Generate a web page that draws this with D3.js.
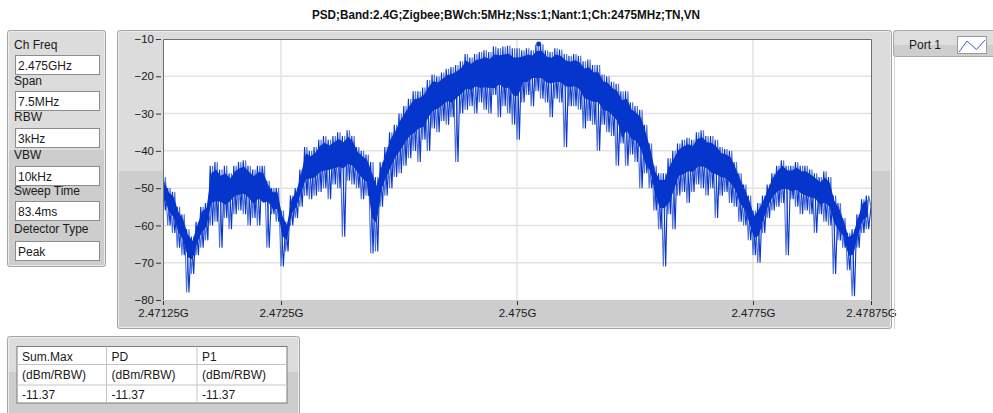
<!doctype html>
<html>
<head>
<meta charset="utf-8">
<style>
	body{margin:0;background:#fff;}
	svg{display:block;font-family:"Liberation Sans",Arial,sans-serif;}
	.tick text{font-size:11.5px;fill:#1a1a1a;}
	.lbl{font-size:12px;fill:#1a1a1a;}
</style>
</head>
<body>
<div id="chart"></div>
<script src="https://d3js.org/d3.v7.min.js"></script>
<script>

var TITLE = 'PSD;Band:2.4G;Zigbee;BWch:5MHz;Nss:1;Nant:1;Ch:2475MHz;TN,VN';

// left settings panel
var paramLabels = ['Ch Freq', 'Span', 'RBW', 'VBW', 'Sweep Time', 'Detector Type'];
var paramValues = ['2.475GHz', '7.5MHz', '3kHz', '10kHz', '83.4ms', 'Peak'];

// result table
var tableHeads = ['Sum.Max', 'PD', 'P1'];
var tableUnits = ['(dBm/RBW)', '(dBm/RBW)', '(dBm/RBW)'];
var tableValues = ['-11.37', '-11.37', '-11.37'];

var legendName = 'Port 1';

// axes (frequency in MHz)
var freqStart = 2471.25;
var freqStop = 2478.75;
var freqBin = 0.05;
var xTickValues = [2471.25, 2472.5, 2475, 2477.5, 2478.75];
var xTickLabels = ['2.47125G', '2.4725G', '2.475G', '2.4775G', '2.47875G'];
var yTickValues = [-10, -20, -30, -40, -50, -60, -70, -80];

// trace, read per 0.05 MHz bin: upper and lower excursion (dBm)
var psdHi = [
	-47, -50, -51, -55, -57, -61, -63, -59, -55, -54,
	-44, -43, -45, -44, -46, -44, -43, -42.5, -44, -45,
	-44, -44, -48, -50, -50, -56, -59, -52, -50, -45,
	-39, -40, -39, -37, -36, -37, -36, -35, -36, -34.5,
	-36, -39, -40, -41, -43, -47, -43, -39, -35, -33,
	-30, -28, -26, -24, -24, -23, -21, -19.5, -20, -19,
	-18, -17.5, -17, -16, -14, -15, -14, -13.5, -13, -13.5,
	-12, -12.5, -12, -11.8, -12.5,
	-12.5, -13, -12.5, -13, -11.5, -11.4, -13, -13.5, -12.5, -12.8,
	-14, -14.5, -14, -14.5, -16, -15.5, -17, -17, -19.5, -20,
	-21.5, -22, -24, -24, -27, -28, -29, -33, -38, -44,
	-46, -46, -42, -40, -38, -37, -36.5, -37, -35, -34.5,
	-36, -36, -37, -39, -39.5, -40, -43, -46, -49, -52,
	-56, -54, -52, -49, -46, -44, -42.5, -44, -44, -43,
	-44, -44, -45, -46, -47, -45.5, -47, -52, -54, -58,
	-62, -61, -57, -53, -52
];
var psdLo = [
	-56, -60, -62, -66, -68, -78, -73, -68, -66, -64,
	-60, -59, -66, -58, -61, -57, -56, -57, -60, -58,
	-60, -53, -66, -57, -59, -71, -67, -60, -58, -55,
	-52, -53, -52, -51, -50, -53, -49, -50, -63, -48,
	-49, -50, -53, -52, -67.5, -67, -55, -52, -50, -47,
	-46, -44, -42, -40, -43, -37, -40, -34, -35, -32,
	-33, -31, -43, -30, -29, -28, -30, -27, -29, -30,
	-25, -31, -28, -30, -33,
	-37, -27, -25, -28, -24, -26, -27, -31, -26, -27,
	-39, -28, -28, -29, -34, -32, -33, -40, -33, -35,
	-36, -44, -38, -44, -41, -43, -50, -46, -50, -56,
	-61, -71, -57, -61, -52, -51, -54, -51, -49, -50,
	-52, -50, -58, -52, -51, -54, -55, -59, -60, -64,
	-68, -70, -62, -58, -56, -55, -54, -68, -53, -55,
	-57, -56, -57, -62, -57, -59, -60, -73, -64, -66,
	-72, -79, -66, -62, -61
];
var psdEnd = -55;
var peakFreq = 2475.23;
var peakLevel = -11.37;

var W = 993, H = 413;
var plot = {left: 163, right: 871, top: 39, bottom: 300};
var BLUE = '#0636cc';

var svg = d3.select('#chart').append('svg')
	.attr('width', W)
	.attr('height', H);

// title
svg.append('text')
	.attr('x', 506).attr('y', 19)
	.attr('text-anchor', 'middle')
	.attr('font-size', 12).attr('font-weight', 'bold')
	.attr('textLength', 388).attr('lengthAdjust', 'spacingAndGlyphs')
	.attr('fill', '#111')
	.text(TITLE);

// two-tone panel like the labview frames
function panel(x, y, w, h, split) {
	var g = svg.append('g');
	g.append('rect').attr('x', x).attr('y', y).attr('width', w).attr('height', h)
		.attr('rx', 3).attr('fill', '#cdcdcd');
	g.append('rect').attr('x', x).attr('y', y).attr('width', w).attr('height', split - y)
		.attr('rx', 3).attr('fill', '#dcdcdc');
	g.append('rect').attr('x', x + 0.5).attr('y', y + 0.5).attr('width', w - 1).attr('height', h - 1)
		.attr('rx', 3).attr('fill', 'none').attr('stroke', '#a3a3a3');
	g.append('rect').attr('x', x + 1.5).attr('y', y + 1.5).attr('width', w - 3).attr('height', h - 3)
		.attr('rx', 2).attr('fill', 'none').attr('stroke', '#ececec');
	return g;
}

// left parameters
panel(7, 30, 99, 237, 150);
var labelY = [49, 85, 121, 159, 195, 233];
var boxY = [55.5, 91.5, 128.5, 166.5, 201.5, 241.5];
paramLabels.forEach(function(d, i) {
	svg.append('text').attr('class', 'lbl')
		.attr('x', 14).attr('y', labelY[i]).text(d);
	svg.append('rect')
		.attr('x', 15.5).attr('y', boxY[i]).attr('width', 84).attr('height', 19)
		.attr('fill', '#fff').attr('stroke', '#8c8c8c');
	svg.append('text').attr('class', 'lbl')
		.attr('x', 18).attr('y', boxY[i] + 14).text(paramValues[i]);
});

// graph frame
panel(117, 30, 775, 299, 171);

var x = d3.scaleLinear().domain([freqStart, freqStop]).range([plot.left, plot.right]);
var y = d3.scaleLinear().domain([-80, -10]).range([plot.bottom, plot.top]);

svg.append('rect')
	.attr('x', plot.left).attr('y', plot.top)
	.attr('width', plot.right - plot.left).attr('height', plot.bottom - plot.top)
	.attr('fill', '#fff');

// grid
svg.append('g').selectAll('line')
	.data(yTickValues.slice(1, -1))
	.enter().append('line')
	.attr('x1', plot.left).attr('x2', plot.right)
	.attr('y1', function(d){ return y(d); }).attr('y2', function(d){ return y(d); })
	.attr('stroke', '#e3e3e3').attr('stroke-width', 1.5);
svg.append('g').selectAll('line')
	.data(xTickValues.slice(1, -1))
	.enter().append('line')
	.attr('y1', plot.top).attr('y2', plot.bottom)
	.attr('x1', function(d){ return x(d); }).attr('x2', function(d){ return x(d); })
	.attr('stroke', '#e3e3e3').attr('stroke-width', 1.5);

// trace
var bins = psdHi.map(function(d, i) {
	var lo3 = [psdLo[Math.max(i - 1, 0)], psdLo[i], psdLo[Math.min(i + 1, psdLo.length - 1)]];
	return {f: freqStart + i * freqBin, hi: d, lo: psdLo[i], loCore: d3.median(lo3)};
});
// two passes over the same readings, half a bin out of phase
var ptsA = [], ptsB = [];
bins.forEach(function(b) {
	ptsA.push([b.f, b.hi]);
	ptsA.push([b.f + freqBin / 2, b.lo]);
	ptsB.push([b.f, b.lo]);
	ptsB.push([b.f + freqBin / 2, b.hi]);
});
ptsA.push([freqStop, psdEnd]);
ptsB.push([freqStop, psdEnd]);

var line = d3.line()
	.x(function(d){ return x(d[0]); })
	.y(function(d){ return y(d[1]); });

// solid core of the trace
var band = d3.area()
	.x(function(d){ return x(d.f + freqBin / 4); })
	.y1(function(d){ return y(d.hi - (d.hi - d.loCore) * 0.12); })
	.y0(function(d){ return y(d.hi - (d.hi - d.loCore) * 0.62); });

svg.append('defs').append('clipPath').attr('id', 'clip')
	.append('rect').attr('x', plot.left).attr('y', plot.top - 6)
	.attr('width', plot.right - plot.left).attr('height', plot.bottom - plot.top + 6);

var gt = svg.append('g').attr('clip-path', 'url(#clip)');
gt.append('path')
	.datum(bins)
	.attr('d', band)
	.attr('fill', BLUE);

[ptsA, ptsB].forEach(function(p, k) {
	gt.append('path')
		.datum(p)
		.attr('d', line)
		.attr('fill', 'none')
		.attr('stroke', BLUE)
		.attr('stroke-opacity', k ? 0.7 : 1)
		.attr('stroke-width', 1.1)
		.attr('stroke-linejoin', 'bevel');
});

svg.append('circle')
	.attr('cx', x(peakFreq)).attr('cy', y(peakLevel)).attr('r', 2.5)
	.attr('fill', BLUE);

// plot border
svg.append('path')
	.attr('d', 'M' + (plot.left + 0.5) + ',' + plot.bottom + 'V' + (plot.top + 0.5) + 'H' + (plot.right + 0.5) + 'V' + plot.bottom)
	.attr('fill', 'none').attr('stroke', '#6e6e6e');

// axes
var yAxis = d3.axisLeft(y).tickValues(yTickValues).tickSize(5).tickPadding(2);
var xAxis = d3.axisBottom(x).tickValues(xTickValues).tickSize(4).tickPadding(4)
	.tickFormat(function(d, i){ return xTickLabels[i]; });

var gy = svg.append('g').attr('transform', 'translate(' + (plot.left - 2) + ',0)').call(yAxis);
gy.select('.domain').remove();
gy.selectAll('.tick line').attr('stroke', '#333');

var gx = svg.append('g').attr('transform', 'translate(0,' + (plot.bottom + 1) + ')').call(xAxis);
gx.select('.domain').remove();
gx.selectAll('.tick line').attr('stroke', '#333');

// legend
var lg = svg.append('g');
lg.append('line').attr('x1', 894.5).attr('x2', 894.5).attr('y1', 56).attr('y2', 329)
	.attr('stroke', '#d2d2d2');
lg.append('rect').attr('x', 893).attr('y', 30).attr('width', 104).attr('height', 27)
	.attr('rx', 3).attr('fill', '#cecece');
lg.append('rect').attr('x', 893).attr('y', 30).attr('width', 104).attr('height', 15)
	.attr('rx', 3).attr('fill', '#dedede');
lg.append('rect').attr('x', 893.5).attr('y', 30.5).attr('width', 104).attr('height', 26)
	.attr('rx', 3).attr('fill', 'none').attr('stroke', '#a8a8a8');
lg.append('text').attr('class', 'lbl').attr('x', 909).attr('y', 49).text(legendName);
lg.append('rect').attr('x', 957.5).attr('y', 36.5).attr('width', 29).attr('height', 17)
	.attr('fill', '#fff').attr('stroke', '#999');
lg.append('polyline')
	.attr('points', '959,52 967,41 976.5,49.5 985,40')
	.attr('fill', 'none').attr('stroke', '#3a5ad8').attr('stroke-width', 1);

// result table
panel(7, 336, 293, 90, 372);
var colX = [17, 106.5, 197, 287];
var rowY = [346.5, 364.5, 385, 403];
var rows = [tableHeads, tableUnits, tableValues];
svg.append('rect').attr('x', colX[0]).attr('y', rowY[0])
	.attr('width', colX[3] - colX[0]).attr('height', rowY[3] - rowY[0])
	.attr('fill', '#fff').attr('stroke', '#7a7a7a');
rows.forEach(function(r, ri) {
	if (ri > 0) {
		svg.append('line').attr('x1', colX[0]).attr('x2', colX[3])
			.attr('y1', rowY[ri]).attr('y2', rowY[ri]).attr('stroke', '#c4c4c4');
	}
	r.forEach(function(t, ci) {
		svg.append('text').attr('class', 'lbl')
			.attr('x', colX[ci] + 5).attr('y', rowY[ri] + 14).text(t);
	});
});
[1, 2].forEach(function(ci) {
	svg.append('line').attr('x1', colX[ci]).attr('x2', colX[ci])
		.attr('y1', rowY[0]).attr('y2', rowY[3]).attr('stroke', '#c4c4c4');
});

</script>
</body>
</html>
